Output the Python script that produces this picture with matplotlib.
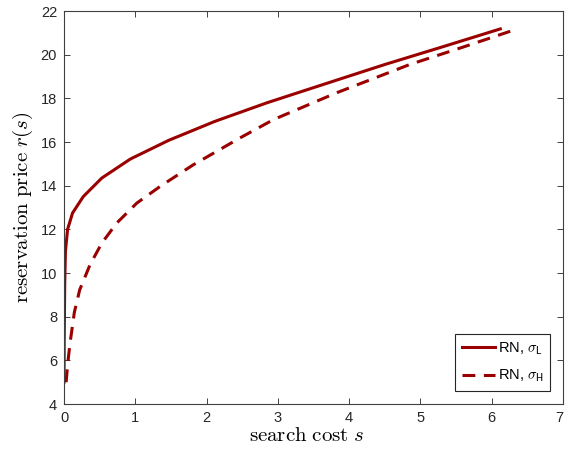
import matplotlib
matplotlib.use("Agg")
import matplotlib.pyplot as plt
from matplotlib.font_manager import FontProperties

# search cost s and reservation price r(s)
s_low = [0.0, 0.003, 0.01, 0.02, 0.05, 0.12, 0.27, 0.53, 0.93, 1.47,
         2.12, 2.85, 3.65, 4.5, 5.3, 6.12]
r_low = [5.0, 7.0, 9.5, 11.0, 12.0, 12.75, 13.5, 14.35, 15.22, 16.08,
         16.95, 17.8, 18.65, 19.55, 20.35, 21.18]

s_high = [0.03, 0.05, 0.085, 0.145, 0.22, 0.365, 0.53, 0.74, 1.02, 1.35,
          1.81, 2.47, 2.94, 3.82, 4.85, 5.6, 6.33]
r_high = [5.0, 5.8, 6.8, 8.2, 9.23, 10.38, 11.37, 12.29, 13.2, 13.97,
          14.95, 16.19, 17.03, 18.25, 19.55, 20.35, 21.15]

labels = [r"RN, $\sigma_{\mathsf{L}}$", r"RN, $\sigma_{\mathsf{H}}$"]

xticks = list(range(0, 8))
yticks = list(range(4, 23, 2))


def main():
    plt.rcParams["mathtext.fontset"] = "cm"
    plt.rcParams["font.family"] = ["Liberation Sans", "DejaVu Sans"]
    red = "#9b0000"
    grey = "#404040"

    fig = plt.figure(figsize=(5.65, 4.61), dpi=100)
    ax = fig.add_axes([0.1133, 0.1236, 0.8832, 0.8525])

    ax.plot(s_low, r_low, color=red, lw=2.2, label=labels[0])
    ax.plot(s_high, r_high, color=red, lw=2.2, dashes=(4.2, 2.8),
            label=labels[1])

    ax.set_xlim(0, 7)
    ax.set_ylim(4, 22)
    ax.set_xticks(xticks)
    ax.set_yticks(yticks)
    ax.tick_params(direction="in", length=4, width=0.7, colors=grey,
                   labelcolor="#262626", labelsize=10.5, pad=5,
                   top=True, right=True)
    # keep the last x tick label inside the figure
    ax.get_xticklabels()[-1].set_horizontalalignment("right")
    for sp in ax.spines.values():
        sp.set_color(grey)
        sp.set_linewidth(0.8)

    ax.set_xlabel(r"$\mathrm{search\ cost}\ s$", fontsize=15)
    ax.xaxis.set_label_coords(0.486, -0.055, transform=ax.transAxes)
    ax.set_ylabel(r"$\mathrm{reservation\ price}\ r(s)$", fontsize=15,
                  labelpad=4)

    prop = FontProperties(family="Liberation Sans", size=10.5,
                          math_fontfamily="cm")
    leg = ax.legend(loc="lower right", prop=prop, fancybox=False,
                    framealpha=1, edgecolor="#262626", handlelength=2.3,
                    handletextpad=0.15, borderaxespad=0.9, borderpad=0.45,
                    labelspacing=0.75)
    leg.get_frame().set_linewidth(0.8)

    fig.savefig("out.png", dpi=100)


if __name__ == "__main__":
    main()
